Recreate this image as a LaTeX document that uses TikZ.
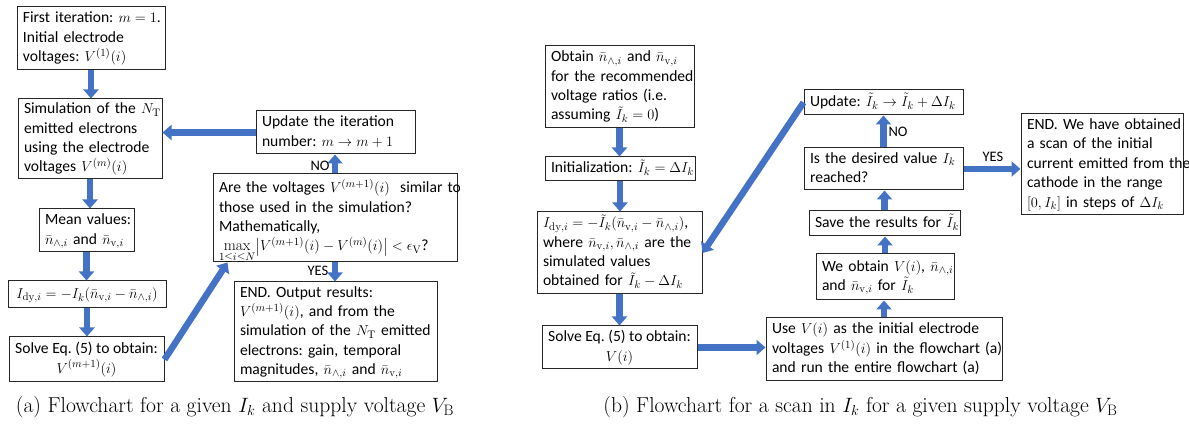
\documentclass[tikz,border=0pt]{standalone}
\usepackage{amsmath}
\usepackage{fontspec}
\newfontfamily\carl{Carlito}
\usetikzlibrary{arrows.meta,calc}
\definecolor{arrblue}{HTML}{4472C4}
\frenchspacing
\tikzset{
  box/.style={draw=black!85, line width=1pt, inner xsep=6pt, inner ysep=0pt,
    font=\carl\fontsize{15.6}{19.4}\selectfont\frenchspacing},
  arr/.style={draw=arrblue, line width=6.5pt, -{Triangle[width=15pt,length=9pt]}},
  lbl/.style={font=\carl\fontsize{14.5}{16}\selectfont, inner sep=0pt},
  captext/.style={font=\fontsize{21.6}{25}\selectfont, inner sep=0pt}
}
% #1 name, #2 cx, #3 cy, #4 W, #5 H, #6 content (left aligned)
\newcommand\mybox[6]{%
  \pgfmathsetmacro\mytw{#4-12}%
  \node[box, minimum width=#4pt, minimum height=#5pt, text width=\mytw pt, align=left]
    (#1) at (#2,#3) {\begin{tabular}{@{}l@{}}#6\end{tabular}};}
% centered
\newcommand\myboxc[6]{%
  \node[box, minimum width=#4pt, minimum height=#5pt]
    (#1) at (#2,#3) {\begin{tabular}{@{}c@{}}#6\end{tabular}};}
\newcommand\nA{\bar n_{\wedge,i}}
\newcommand\nV{\bar n_{\mathrm{v},i}}
\begin{document}
\begin{tikzpicture}[x=1pt,y=-1pt]
\useasboundingbox (0,0) rectangle (1189,427);
% ---------- (a)
\mybox{A1}{91}{38.5}{148}{63}{First iteration: $m=1$.\\Initial electrode\\voltages: $V^{(1)}(i)$}
\mybox{A2}{90}{139}{144}{80}{Simulation of the $N_{\mathrm{T}}$\\emitted electrons\\using the electrode\\voltages $V^{(m)}(i)$}
\mybox{A3}{86.5}{230.5}{95}{43}{Mean values:\\$\nA$ and $\nV$}
\myboxc{A4}{87}{294.5}{158}{27}{$I_{\mathrm{dy},i}=-I_k(\nV-\nA)$}
\myboxc{A5}{86.5}{359.5}{155}{45}{Solve Eq. (5) to obtain:\\$V^{(m+1)}(i)$}
\mybox{A6}{335.5}{132.5}{159}{43}{Update the iteration\\number: $m\rightarrow m+1$}
\mybox{A7}{335}{218}{244}{88}{Are the voltages $V^{(m+1)}(i)$\ \ similar to\\those used in the simulation?\\Mathematically,\\$\smash[b]{\max\limits_{1\le i\le N}}\bigl|V^{(m+1)}(i)-V^{(m)}(i)\bigr|<\epsilon_{\mathrm{V}}$?}
\mybox{A8}{335.5}{332}{203}{100}{END. Output results:\\$V^{(m+1)}(i)$, and from the\\simulation of the $N_{\mathrm{T}}$ emitted\\electrons: gain, temporal\\magnitudes, $\nA$ and $\nV$}
\draw[arr] (A1.south) -- (A1.south |- A2.north);
\draw[arr] (A2.south) -- (A2.south |- A3.north);
\draw[arr] (A3.south) -- (A3.south |- A4.north);
\draw[arr] (A4.south) -- (A4.south |- A5.north);
\draw[arr] (A5.east) -- ($(A7.south west)+(15,0)$);
\draw[arr] (A6.west) -- (A6.west -| A2.east);
\draw[arr] (A7.north) -- (A7.north |- A6.south);
\draw[arr] (A7.south) -- (A7.south |- A8.north);
\node[lbl] (no1) at (320,166) {NO};
\node[lbl] (yes1) at (318,271) {YES};
% ---------- (b)
\mybox{B1}{619.5}{87}{149}{82}{Obtain $\nA$ and $\nV$\\for the recommended\\voltage ratios (i.e.\\assuming $\tilde I_k=0$)}
\mybox{B2}{620}{169}{150}{24}{Initialization: $\tilde I_k=\Delta I_k$}
\mybox{B3}{619.5}{253}{165}{82}{$I_{\mathrm{dy},i}=-\tilde I_k(\nV-\nA)$,\\where $\nV,\nA$ are the\\simulated values\\obtained for $\tilde I_k-\Delta I_k$}
\myboxc{B4}{619.5}{347.5}{155}{43}{Solve Eq. (5) to obtain:\\$V(i)$}
\mybox{B5}{884}{349.5}{236}{63}{Use $V(i)$ as the initial electrode\\voltages $V^{(1)}(i)$ in the flowchart (a)\\and run the entire flowchart (a)}
\mybox{B6}{885}{277}{138}{46}{We obtain $V(i)$, $\nA$\\and $\nV$ for $\tilde I_k$}
\mybox{B7}{884.5}{223.5}{151}{25}{Save the results for $\tilde I_k$}
\mybox{B8}{883.5}{169}{159}{42}{Is the desired value $I_k$\\reached?}
\mybox{B9}{883.5}{102.5}{159}{25}{Update: $\tilde I_k\rightarrow\tilde I_k+\Delta I_k$}
\mybox{B10}{1102}{164.5}{162}{101}{END. We have obtained\\a scan of the initial\\current emitted from the\\cathode in the range\\$[0,I_k]$ in steps of $\Delta I_k$}
\draw[arr] (B1.south) -- (B1.south |- B2.north);
\draw[arr] (B2.south) -- (B2.south |- B3.north);
\draw[arr] (B3.south) -- (B3.south |- B4.north);
\draw[arr] (B4.east) -- (B4.east -| B5.west);
\draw[arr] (B5.north) -- (B5.north |- B6.south);
\draw[arr] (B6.north) -- (B6.north |- B7.south);
\draw[arr] (B7.north) -- (B7.north |- B8.south);
\draw[arr] (B8.north) -- (B8.north |- B9.south);
\draw[arr] (B8.east) -- (B8.east -| B10.west);
\draw[arr] (B9.west) -- (B3.east);
\node[lbl] (no2) at (898,132) {NO};
\node[lbl] (yes2) at (993,157) {YES};
% ---------- captions
\node[captext] (capa) at (235,407) {(a) Flowchart for a given $I_k$ and supply voltage $V_{\mathrm{B}}$};
\node[captext] (capb) at (860.5,407) {(b) Flowchart for a scan in $I_k$ for a given supply voltage $V_{\mathrm{B}}$};
\end{tikzpicture}
\end{document}
